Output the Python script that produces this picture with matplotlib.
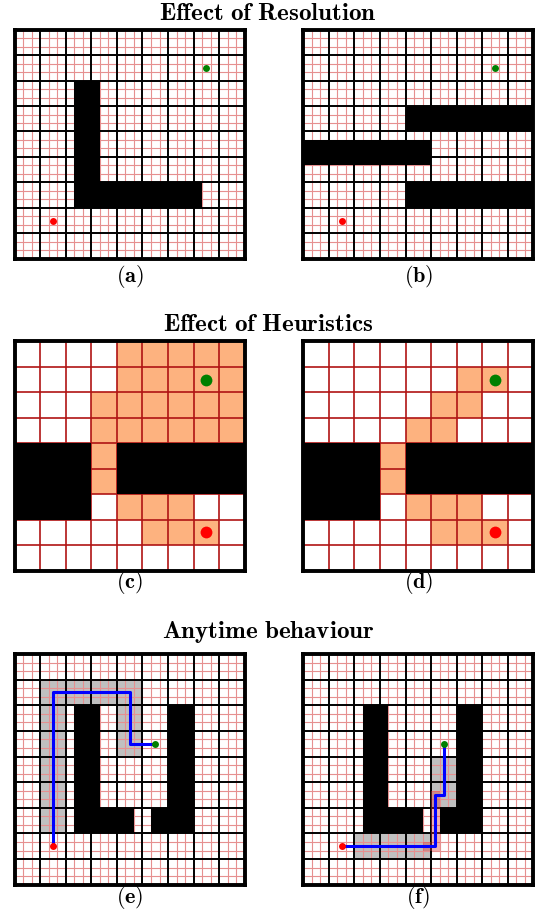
"""
Grid planner illustrations: resolution, heuristics and anytime behaviour.
"""

import numpy as np
import matplotlib
matplotlib.use("Agg")
import matplotlib.pyplot as plt
from matplotlib.patches import Rectangle

plt.rcParams['mathtext.fontset'] = 'cm'

W_PX, H_PX = 536, 911
N = 9           # coarse cells per side
FINE = 3        # fine subdivisions per coarse cell

# ---- Effect of resolution -------------------------------------------------
START_RES = (1.5, 7.5)
GOAL_RES = (7.5, 1.5)
# obstacles as (x, y, width, height), y measured from the top
OBST_A = [(7 / 3, 2, 1, 5), (7 / 3, 6, 5, 1)]
OBST_B = [(4, 3, 5, 1), (0, 13 / 3, 5, 1), (4, 6, 5, 1)]

# ---- Effect of heuristics -------------------------------------------------
START_HEUR = (7.5, 7.5)
GOAL_HEUR = (7.5, 1.5)
OBST_HEUR = [(0, 4, 3, 3), (4, 4, 5, 2)]
EXPANDED_C = [
    "....#####",
    "....#####",
    "...######",
    "...######",
    "...#.....",
    "...#.....",
    "....###..",
    ".....###.",
    ".........",
]
EXPANDED_D = [
    ".........",
    "......##.",
    ".....##..",
    "....##...",
    "...#.....",
    "...#.....",
    "....###..",
    ".....###.",
    ".........",
]

# ---- Anytime behaviour ----------------------------------------------------
START_ANY = (1.5, 7.5)
GOAL_ANY = (5.5, 3.5)
OBST_ANY = [(7 / 3, 2, 1, 5), (7 / 3, 6, 7 / 3, 1),
            (16 / 3, 6, 5 / 3, 1), (6, 2, 1, 5)]
PATH_E_X = [1.5, 1.5, 4.5, 4.5, 5.5]
PATH_E_Y = [7.5, 1.5, 1.5, 3.5, 3.5]
GRAY_E = [(1, r) for r in range(1, 7)] + [(c, 1) for c in range(2, 5)] + [(4, 2), (4, 3)]
PATH_F_X = [1.5, 31 / 6, 31 / 6, 5.5, 5.5]
PATH_F_Y = [7.5, 7.5, 5.5, 5.5, 3.5]
GRAY_F = [(2, 7), (3, 7), (4, 7), (5, 4), (5, 5)]
# fine cells (column, row) in units of 1/FINE
PINK_F = [(14, 22)] + [(15, r) for r in range(16, 23)]

ORANGE = '#fdb27f'
GRAY = '#c0c0c0'


def make_ax(fig, x0, y0, x1, y1):
    """Axes placed by pixel box (top-left origin)."""
    ax = fig.add_axes([x0 / W_PX, 1 - y1 / H_PX, (x1 - x0) / W_PX, (y1 - y0) / H_PX])
    ax.set_xlim(0, N)
    ax.set_ylim(N, 0)
    ax.set_xticks([])
    ax.set_yticks([])
    for s in ax.spines.values():
        s.set_linewidth(2.8)
        s.set_color('black')
        s.set_zorder(10)
    return ax


def draw_fine_grid(ax):
    ticks = [k / FINE for k in range(1, N * FINE) if k % FINE]
    ax.vlines(ticks, 0, N, color='#e69090', lw=0.8, zorder=2)
    ax.hlines(ticks, 0, N, color='#e69090', lw=0.8, zorder=2)


def draw_coarse_grid(ax, color='black', lw=1.4):
    ticks = np.arange(1, N)
    ax.vlines(ticks, 0, N, color=color, lw=lw, zorder=3)
    ax.hlines(ticks, 0, N, color=color, lw=lw, zorder=3)


def draw_obstacles(ax, obstacles):
    for x, y, w, h in obstacles:
        ax.add_patch(Rectangle((x, y), w, h, facecolor='black', edgecolor='none', zorder=4))


def draw_cells(ax, cells, color, size=1.0, alpha=1.0, z=1):
    for c, r in cells:
        ax.add_patch(Rectangle((c * size, r * size), size, size, facecolor=color,
                               edgecolor='none', alpha=alpha, zorder=z))


def draw_ends(ax, start, goal, ms):
    ax.plot(*start, 'o', color='#ff0000', ms=ms, mec='none', zorder=7)
    ax.plot(*goal, 'o', color='#008000', ms=ms, mec='none', zorder=7)


def caption(fig, x_mid, y, text):
    fig.text(x_mid / W_PX, 1 - y / H_PX, text, ha='center', va='baseline', fontsize=16)


def title(fig, y, text):
    fig.text(0.5, 1 - y / H_PX, text, ha='center', va='baseline', fontsize=18)


fig = plt.figure(figsize=(W_PX / 100, H_PX / 100), dpi=100)

LEFT = (14.7, 244.7)
RIGHT = (303.3, 533.3)
ROWS = [(29.7, 258.7), (341.3, 570.7), (654.0, 884.7)]

# row 1: resolution
title(fig, 20, r'$\mathbf{Effect\ of\ Resolution}$')
for (x0, x1), obst, lab in [(LEFT, OBST_A, '(a)'), (RIGHT, OBST_B, '(b)')]:
    ax = make_ax(fig, x0, ROWS[0][0], x1, ROWS[0][1])
    draw_fine_grid(ax)
    draw_coarse_grid(ax)
    draw_obstacles(ax, obst)
    draw_ends(ax, START_RES, GOAL_RES, 5)
    caption(fig, (x0 + x1) / 2, 282, r'$\mathbf{' + lab + '}$')

# row 2: heuristics
title(fig, 331, r'$\mathbf{Effect\ of\ Heuristics}$')
for (x0, x1), expanded, lab in [(LEFT, EXPANDED_C, '(c)'), (RIGHT, EXPANDED_D, '(d)')]:
    ax = make_ax(fig, x0, ROWS[1][0], x1, ROWS[1][1])
    cells = [(c, r) for r, row in enumerate(expanded) for c, ch in enumerate(row) if ch == '#']
    draw_cells(ax, cells, ORANGE)
    draw_coarse_grid(ax, color='#b01414', lw=1.2)
    draw_obstacles(ax, OBST_HEUR)
    draw_ends(ax, START_HEUR, GOAL_HEUR, 8.5)
    caption(fig, (x0 + x1) / 2, 588, r'$\mathbf{' + lab + '}$')

# row 3: anytime behaviour
title(fig, 638, r'$\mathbf{Anytime\ behaviour}$')
panels = [(LEFT, GRAY_E, PATH_E_X, PATH_E_Y, [], '(e)'),
          (RIGHT, GRAY_F, PATH_F_X, PATH_F_Y, PINK_F, '(f)')]
for (x0, x1), gray, px, py, pink, lab in panels:
    ax = make_ax(fig, x0, ROWS[2][0], x1, ROWS[2][1])
    draw_cells(ax, gray, GRAY)
    draw_fine_grid(ax)
    draw_coarse_grid(ax)
    draw_obstacles(ax, OBST_ANY)
    draw_cells(ax, pink, '#d83c3c', size=1 / FINE, alpha=0.4, z=5)
    ax.plot(px, py, color='#0000ff', lw=2.2, zorder=6)
    draw_ends(ax, START_ANY, GOAL_ANY, 5)
    caption(fig, (x0 + x1) / 2, 903, r'$\mathbf{' + lab + '}$')

fig.savefig('out.png', dpi=100)
plt.close(fig)
